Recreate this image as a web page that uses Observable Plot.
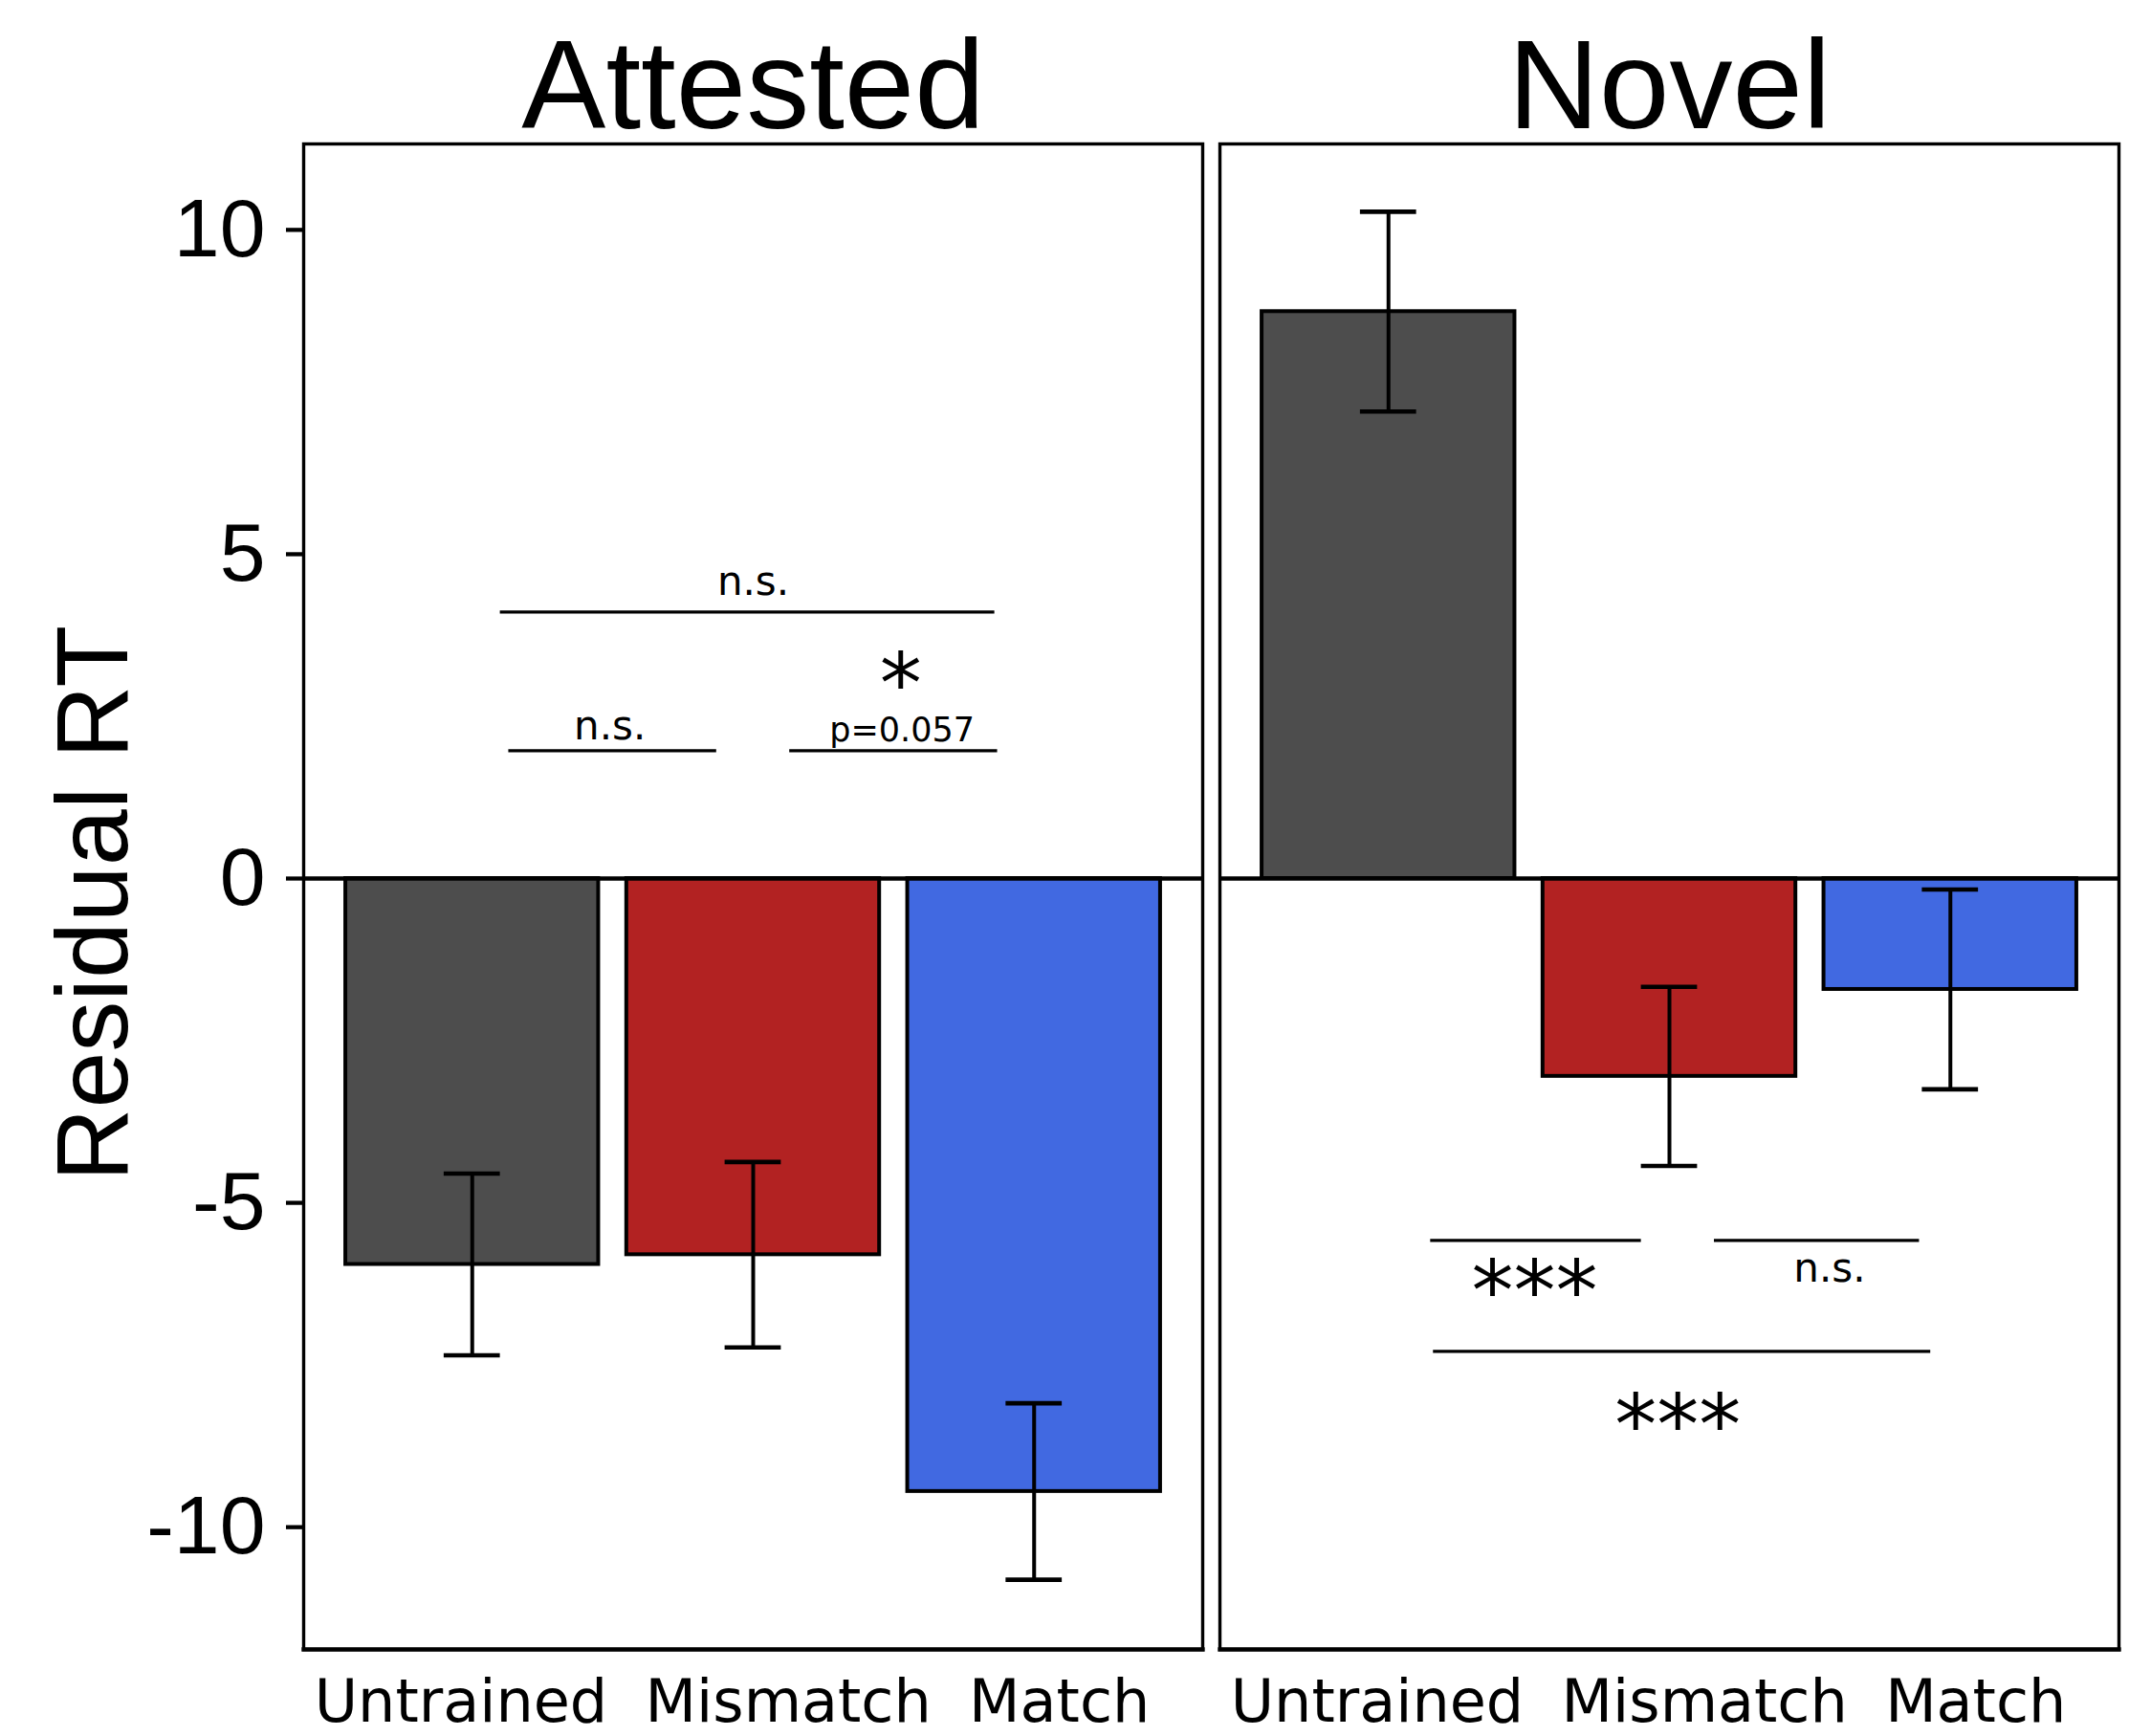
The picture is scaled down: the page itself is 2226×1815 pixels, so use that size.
<!DOCTYPE html>
<html><head><meta charset="utf-8">
<script src="https://cdn.jsdelivr.net/npm/d3@7"></script>
<script src="https://cdn.jsdelivr.net/npm/@observablehq/plot@0.6"></script>
<style>html,body{margin:0;padding:0;background:#fff} #chart svg{display:block}</style>
</head><body><div id="chart"></div>
<script>
// ---- data ----
const panels = ["Attested", "Novel"];
const categories = ["Untrained", "Mismatch", "Match"];
const attestedMeans = [-5.95, -5.80, -9.45];
const attestedSE = [1.40, 1.43, 1.36];
const novelMeans = [8.74, -3.05, -1.71];
const novelSE = [1.54, 1.38, 1.54];
const yTicks = [-10, -5, 0, 5, 10];
const barColors = ["#4D4D4D", "#B22222", "#4169E1"];
const yLabel = "Residual RT";

// significance brackets (data coordinates: category index, residual RT)
const bracketPanel = ["Attested", "Attested", "Attested", "Novel", "Novel", "Novel"];
const bracketFrom = [1.10, 1.13, 2.13, 1.15, 2.16, 1.16];
const bracketTo = [2.86, 1.87, 2.87, 1.90, 2.89, 2.93];
const bracketY = [4.11, 1.97, 1.97, -5.58, -5.58, -7.29];

const sigPanel = ["Attested", "Attested", "Attested", "Attested", "Novel", "Novel", "Novel"];
const sigText = ["n.s.", "n.s.", "*", "p=0.057", "***", "n.s.", "***"];
const sigX = [2.0, 1.49, 2.525, 2.53, 1.52, 2.57, 2.03];
const sigY = [4.37, 2.15, 2.56, 2.12, -6.81, -6.22, -8.87];

// ---- tables ----
const rows = [];
panels.forEach((p, pi) => categories.forEach((c, ci) => rows.push({
  panel: p, cat: c, i: ci + 1,
  mean: (pi === 0 ? attestedMeans : novelMeans)[ci],
  se: (pi === 0 ? attestedSE : novelSE)[ci]
})));
const brackets = bracketPanel.map((p, k) => ({panel: p, from: bracketFrom[k], to: bracketTo[k], y: bracketY[k]}));
const sigs = sigPanel.map((p, k) => ({panel: p, text: sigText[k], x: sigX[k], y: sigY[k]}));
const sigSize = t => t.startsWith("*") ? 88 : t.startsWith("p") ? 35 : 42;

const sans = "'Liberation Sans', Arial, Helvetica, sans-serif";
const dejavu = "'DejaVu Sans', sans-serif";

const chart = Plot.plot({
  width: 2226, height: 1815,
  marginTop: 150, marginBottom: 91, marginLeft: 317, marginRight: 11,
  style: {fontFamily: sans, background: "#fff", color: "#000"},
  fx: {domain: panels, paddingInner: 0.0188, paddingOuter: 0, round: false},
  x: {domain: [0.4, 3.6], axis: null},
  y: {domain: [-11.885, 11.325]},
  color: {domain: categories, range: barColors},
  marks: [
    Plot.rect(rows, {fx: "panel", x1: d => d.i - 0.45, x2: d => d.i + 0.45, y1: 0, y2: "mean",
      fill: "cat", stroke: "#000", strokeWidth: 4}),
    Plot.ruleY([0], {stroke: "#000", strokeWidth: 4.3}),
    Plot.ruleX(rows, {fx: "panel", x: "i", y1: d => d.mean - d.se, y2: d => d.mean + d.se,
      stroke: "#000", strokeWidth: 4}),
    Plot.ruleY(rows, {fx: "panel", x1: d => d.i - 0.1, x2: d => d.i + 0.1, y: d => d.mean + d.se,
      stroke: "#000", strokeWidth: 4.6}),
    Plot.ruleY(rows, {fx: "panel", x1: d => d.i - 0.1, x2: d => d.i + 0.1, y: d => d.mean - d.se,
      stroke: "#000", strokeWidth: 4.6}),
    Plot.ruleY(brackets, {fx: "panel", x1: "from", x2: "to", y: "y", stroke: "#000", strokeWidth: 3.3}),
    Plot.text(sigs, {fx: "panel", x: "x", y: "y", text: "text", fontSize: d => sigSize(d.text),
      lineAnchor: "bottom", fontFamily: dejavu, fill: "#000"}),
    Plot.frame({stroke: "#000", strokeWidth: 3.4}),
    Plot.frame({anchor: "bottom", stroke: "#000", strokeWidth: 4.3}),
    Plot.axisY({ticks: yTicks, tickFormat: d => String(d), tickSize: 18, tickPadding: 22,
      fontSize: 86, strokeWidth: 4.3, label: null}),
    Plot.text([panels[0]], {fx: d => d, text: () => yLabel, frameAnchor: "left", textAnchor: "middle",
      rotate: -90, lineAnchor: "top", dx: -260, dy: 7, fontSize: 106, fontFamily: sans, fill: "#000"}),
    Plot.axisFx({anchor: "top", label: null, tickSize: 0, tickPadding: 17, fontSize: 132}),
    Plot.text(panels, {fx: d => d, text: () => categories.join("\u00a0\u00a0"), frameAnchor: "bottom",
      lineAnchor: "bottom", dy: 75, dx: -22, fontSize: 62, fontFamily: dejavu, fill: "#000"})
  ]
});
document.getElementById("chart").appendChild(chart);
</script>
</body></html>
